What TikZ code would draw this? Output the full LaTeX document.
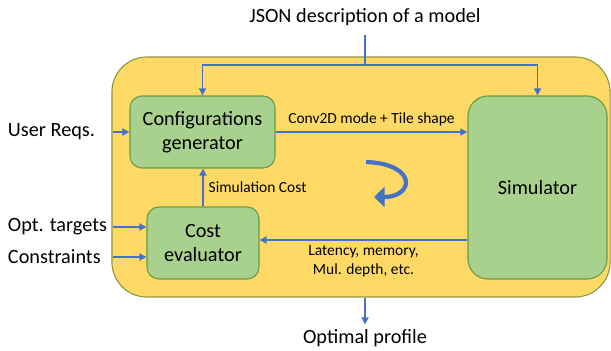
\documentclass[tikz,border=0pt]{standalone}
\usepackage{fontspec}
\setmainfont{Carlito}
\usetikzlibrary{arrows.meta}
\definecolor{pblue}{HTML}{4472C4}
\definecolor{pyellow}{HTML}{FFD966}
\definecolor{pframe}{HTML}{8C9A3C}
\definecolor{pgreen}{HTML}{A9D18E}
\definecolor{pgreenb}{HTML}{6A9B45}
\tikzset{
  link/.style={draw=pblue, line width=1.4pt, -{Triangle[length=5pt,width=5pt]}},
  block/.style={rectangle, draw=pgreenb, fill=pgreen, line width=0.8pt, rounded corners=0.3cm,
    align=center, font=\fontsize{14.4}{17}\selectfont},
  big/.style={font=\fontsize{14.4}{17}\selectfont},
  small/.style={font=\fontsize{11}{13.5}\selectfont, align=center}
}
\begin{document}
\begin{tikzpicture}[x=0.025cm, y=-0.025cm]
\useasboundingbox (0,0) rectangle (611,350);
% frame
\node[rectangle, draw=pframe, fill=pyellow, line width=0.8pt, rounded corners=0.875cm,
      minimum width=12.45cm, minimum height=6cm] (frame) at (361,177) {};
% blocks
\node[block, minimum width=3.625cm, minimum height=1.8cm] (cfg) at (202.5,132) {Configurations\\generator};
\node[block, minimum width=2.8cm, minimum height=1.8cm] (cost) at (203,243) {Cost\\evaluator};
\node[block, rounded corners=0.5cm, minimum width=3.475cm, minimum height=4.575cm] (sim) at (537.5,187.5) {Simulator};
% outside texts
\node[big, outer ysep=3pt] (json) at (365,17) {JSON description of a model};
\node[big, anchor=west] (user) at (3,132) {User Reqs.};
\node[big, anchor=west] (opt) at (3,227) {Opt. targets};
\node[big, anchor=west] (cons) at (3,257) {Constraints};
\node[big] (out) at (365,338) {Optimal profile};
% connectors
\coordinate (split) at (365,65);
\draw[draw=pblue, line width=1.4pt] (json) -- (split);
\draw[link] (split) -| (cfg.north);
\draw[link] (split) -| (sim.north);
\draw[link] (113,132) -- (cfg.west);
\draw[link] (113,227) -- (opt -| cost.west);
\draw[link] (113,257) -- (cons -| cost.west);
\draw[link] (cfg.east) -- (cfg.east -| sim.west)
  node[midway, above, small] {Conv2D mode + Tile shape};
\draw[link] (cost.north) -- (cost.north |- cfg.south)
  node[midway, right, small] {Simulation Cost};
\draw[link] (sim.west |- 0,240) -- (cost.east |- 0,240)
  node[midway, below, small] {Latency, memory,\\Mul. depth, etc.};
\draw[link] (out.north |- frame.south) -- (out.north);
% loop arrow
\draw[draw=pblue, line width=3pt, -{Triangle[length=7.5pt,width=14pt]}]
  (366,162) .. controls (418,164) and (414,197) .. (374,197);
\end{tikzpicture}
\end{document}
